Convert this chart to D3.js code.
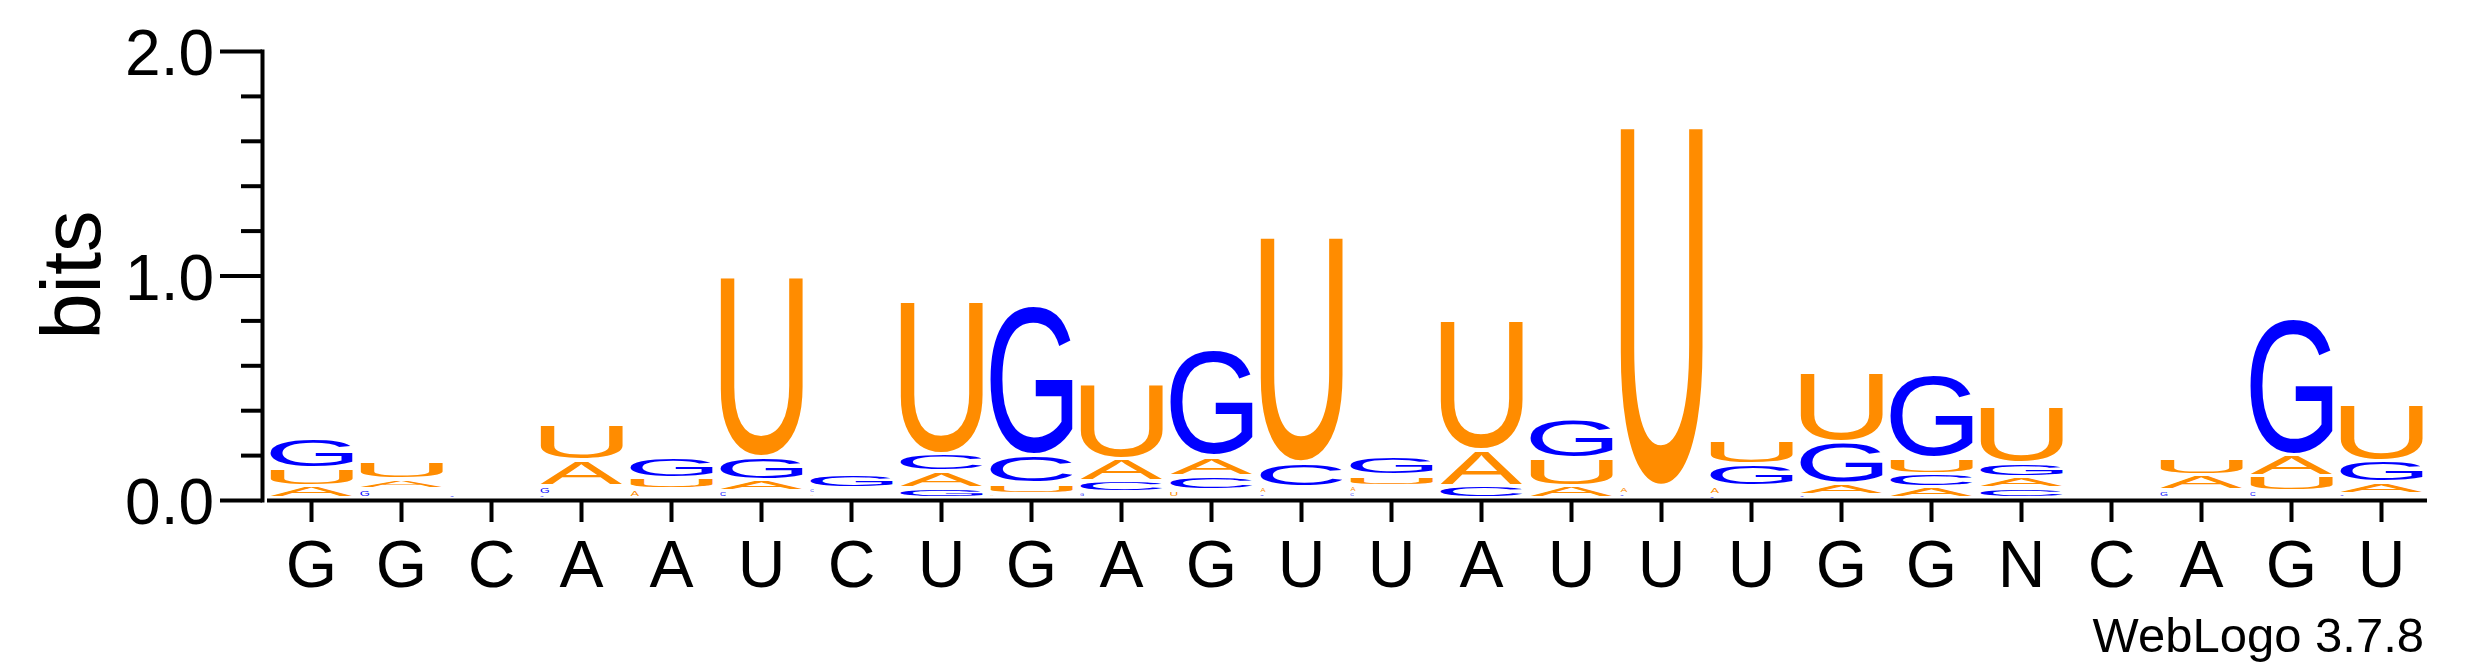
<!DOCTYPE html>
<html>
<head>
<meta charset="utf-8">
<script src="https://cdn.jsdelivr.net/npm/d3@7"></script>
<style>
  body { margin: 0; background: #fff; }
  text { font-family: "Liberation Sans", Arial, Helvetica, sans-serif; }
</style>
</head>
<body>
<div id="chart"></div>
<script>
// consensus labels under each column
const labels = ["G","G","C","A","A","U","C","U","G","A","G","U","U","A","U","U","U","G","G","N","C","A","G","U"];

// information (bits) carried by each base in each column
const bitsA = [0.055,0.045,0,0.116,0.04,0.049,0.02,0.075,0.02,0.1,0.087,0.03,0.03,0.16,0.055,0.035,0.04,0.049,0.048,0.048,0,0.068,0.095,0.05];
const bitsC = [0,0,0,0.015,0,0.031,0.025,0.077,0.128,0.049,0.065,0.11,0.025,0.055,0,0.02,0.012,0.015,0.061,0.046,0,0,0.03,0.02];
const bitsG = [0.13,0.04,0.015,0.039,0.09,0.103,0.06,0.046,0.665,0.025,0.474,0.02,0.083,0,0.173,0,0.1,0.185,0.373,0.065,0,0.035,0.609,0.098];
const bitsU = [0.08,0.08,0,0.158,0.05,0.805,0,0.682,0.045,0.336,0.035,1.006,0.046,0.58,0.124,1.6,0.11,0.3125,0.068,0.254,0,0.075,0.068,0.253];

const yTicks = [0, 1, 2];
const yMinor = [0.2, 0.4, 0.6, 0.8, 1.2, 1.4, 1.6, 1.8];

const colors = { A: "#ff8c00", U: "#ff8c00", G: "#0000ff", C: "#0000ff" };
const FONT = '"Liberation Sans", Arial, Helvetica, sans-serif';

const W = 2475, H = 667;
const svg = d3.select("#chart").append("svg")
  .attr("width", W).attr("height", H)
  .style("display", "block");

svg.append("rect").attr("width", W).attr("height", H).attr("fill", "#fff");

const x = d3.scaleBand().domain(d3.range(labels.length)).range([266.5, 2426.5]);
const y = d3.scaleLinear().domain([0, 2]).range([500, 51]);

// glyph ink boxes, so each letter can be stretched to fill its slot
const ctx = document.createElement("canvas").getContext("2d");
ctx.font = `200px ${FONT}`;
const ink = {};
["A", "C", "G", "U"].forEach(ch => {
  const m = ctx.measureText(ch);
  ink[ch] = {
    left: m.actualBoundingBoxLeft,
    asc: m.actualBoundingBoxAscent,
    w: m.actualBoundingBoxLeft + m.actualBoundingBoxRight,
    h: m.actualBoundingBoxAscent + m.actualBoundingBoxDescent
  };
});

const columns = labels.map((l, i) => {
  const rows = [
    { ch: "A", v: bitsA[i] },
    { ch: "C", v: bitsC[i] },
    { ch: "G", v: bitsG[i] },
    { ch: "U", v: bitsU[i] }
  ].filter(d => d.v > 0).sort((a, b) => a.v - b.v);
  let acc = 0;
  rows.forEach(d => { d.y0 = acc; acc += d.v; d.y1 = acc; });
  return { i, rows };
});

const letterW = 82, pad = 1.8, base = -2;
const logo = svg.append("g");

columns.forEach(col => {
  const cx = x(col.i) + x.bandwidth() / 2;
  col.rows.forEach(d => {
    const top = y(d.y1) + base + pad;
    const hgt = Math.max(y(d.y0) - y(d.y1) - 2 * pad, 0.8);
    // very small letters keep a roughly natural shape, as in the original
    const wid = hgt < 6 ? Math.max(hgt * 1.6, 3) : letterW;
    const g = ink[d.ch];
    logo.append("text")
      .text(d.ch)
      .attr("font-size", 200)
      .attr("x", g.left)
      .attr("y", g.asc)
      .attr("fill", colors[d.ch])
      .attr("transform", `translate(${cx - letterW / 2},${top}) scale(${wid / g.w},${hgt / g.h})`);
  });
});

// y axis
const yAxis = svg.append("g")
  .attr("transform", "translate(262,0)")
  .call(d3.axisLeft(y).tickValues(yTicks).tickFormat(d3.format(".1f"))
    .tickSize(42).tickSizeOuter(0).tickPadding(6));
yAxis.select(".domain").attr("stroke-width", 4).attr("stroke-linecap", "square");
yAxis.selectAll(".tick line").attr("stroke-width", 4);
yAxis.selectAll(".tick text")
  .attr("font-family", FONT).attr("font-size", 64).attr("dy", "0.37em").attr("fill", "#000");

const yAxisMinor = svg.append("g")
  .attr("transform", "translate(262,0)")
  .call(d3.axisLeft(y).tickValues(yMinor).tickFormat("").tickSize(21).tickSizeOuter(0));
yAxisMinor.select(".domain").remove();
yAxisMinor.selectAll(".tick line").attr("stroke-width", 4);

// x axis
const xAxis = svg.append("g")
  .attr("transform", `translate(0,${y(0)})`)
  .call(d3.axisBottom(x).tickFormat(i => labels[i]).tickSize(22).tickSizeOuter(0).tickPadding(18));
xAxis.select(".domain").attr("stroke-width", 4);
xAxis.selectAll(".tick line").attr("stroke-width", 4);
xAxis.selectAll(".tick text")
  .attr("font-family", FONT).attr("font-size", 66).attr("dy", "0.71em").attr("fill", "#000");

// axis title
svg.append("text")
  .attr("transform", "translate(100,275) rotate(-90)")
  .attr("text-anchor", "middle")
  .attr("font-size", 83)
  .text("bits");

svg.append("text")
  .attr("x", 2424).attr("y", 652)
  .attr("text-anchor", "end")
  .attr("font-size", 49)
  .text("WebLogo 3.7.8");
</script>
</body>
</html>
